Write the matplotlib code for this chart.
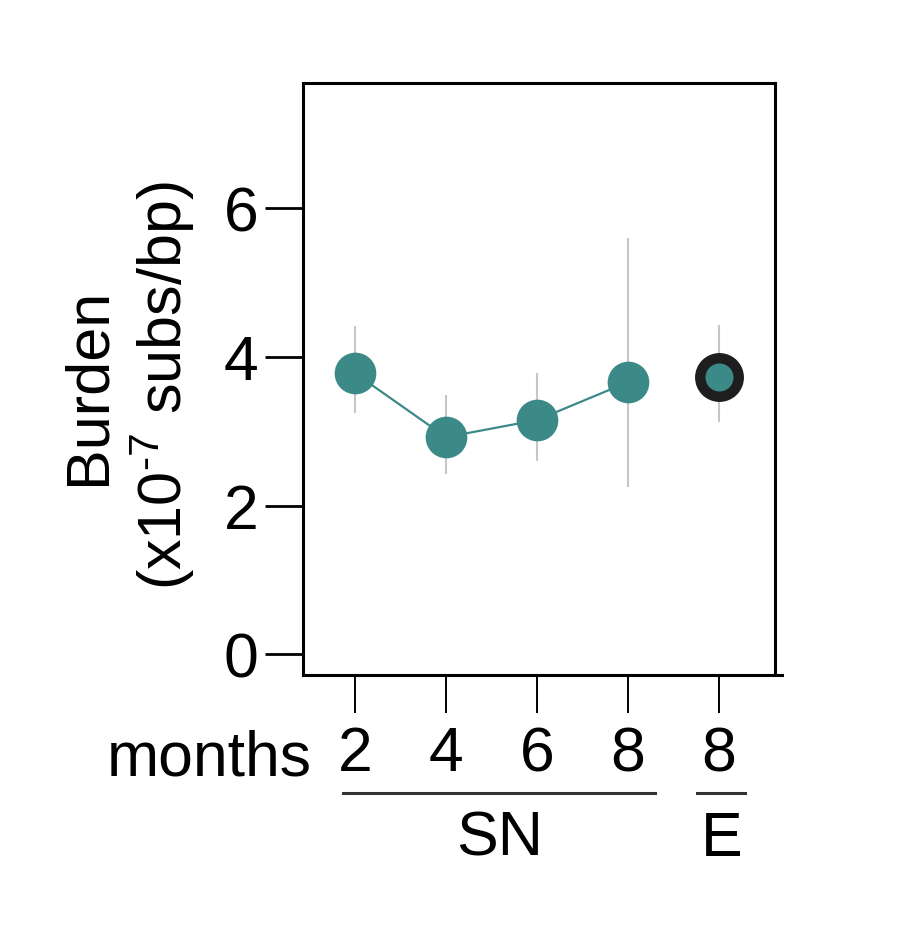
import matplotlib
matplotlib.use("Agg")
import matplotlib.pyplot as plt
from matplotlib.transforms import blended_transform_factory

plt.rcParams['font.family'] = ['Liberation Sans', 'DejaVu Sans']
plt.rcParams['mathtext.fontset'] = 'custom'
plt.rcParams['mathtext.rm'] = 'Liberation Sans'
plt.rcParams['mathtext.it'] = 'Liberation Sans'
plt.rcParams['mathtext.sf'] = 'Liberation Sans'

# ---- data ----
months = ["2", "4", "6", "8"]
sn_mean = [3.78, 2.92, 3.15, 3.66]
sn_low = [3.24, 2.42, 2.60, 2.25]
sn_high = [4.41, 3.49, 3.78, 5.60]
e_label = ["8"]
e_mean = [3.73]
e_low = [3.13]
e_high = [4.43]
yticks = [0, 2, 4, 6]
groups = ["SN", "E"]

teal = "#3c8a87"
gray = "#c6c6c6"

W, H = 900, 934
fig = plt.figure(figsize=(W / 100, H / 100), dpi=100)
ax = fig.add_axes([302.5 / W, 1 - 675 / H, (775 - 302.5) / W, (675 - 83.3) / H])

xs_sn = list(range(len(months)))
xs_e = [len(months) + i for i in range(len(e_label))]

# error bars
for x, lo, hi in zip(xs_sn + xs_e, sn_low + e_low, sn_high + e_high):
    ax.plot([x, x], [lo, hi], color=gray, lw=1.5, zorder=1, solid_capstyle='butt')

# SN line + markers
ax.plot(xs_sn, sn_mean, color=teal, lw=1.6, zorder=2)
ax.plot(xs_sn, sn_mean, 'o', ms=30, color=teal, mec='none', zorder=3)
# E marker
ax.plot(xs_e, e_mean, 'o', ms=27.7, mfc=teal, mec="#1e1e1e", mew=7.5, zorder=3)

ax.set_xlim(-0.577, 4.615)
ax.set_ylim(-0.28, 7.68)
ax.set_yticks(yticks)
ax.set_yticklabels([str(v) for v in yticks])
ax.set_xticks(xs_sn + xs_e)
ax.set_xticklabels(months + e_label)

for s in ax.spines.values():
    s.set_linewidth(2.2)
ax.spines['bottom'].set_bounds(-0.577, 4.69)

ax.tick_params(axis='y', direction='out', length=27.5, width=2.0, pad=4,
               labelsize=45)
ax.tick_params(axis='x', direction='out', length=27, width=1.4, pad=9,
               labelsize=45)

# y label
fig.text(129 / W, 1 - 386 / H, "Burden\n(x10$^{\\text{-}7}$ subs/bp)", rotation=90,
         ha='center', va='center', fontsize=44, linespacing=1.2,
         multialignment='center')

# "months" text
fig.text(312 / W, 1 - 776 / H, "months", ha='right', va='baseline', fontsize=45)

# group lines and labels
tr = blended_transform_factory(ax.transData, fig.transFigure)
sn_line = [-0.13, 3.30]
e_line = [3.76, 4.29]
ax.plot(sn_line, [1 - 793 / H] * 2, color="#333333", lw=2.2,
        transform=tr, clip_on=False)
ax.plot(e_line, [1 - 793 / H] * 2, color="#333333", lw=2.2,
        transform=tr, clip_on=False)
ax.text(sum(sn_line) / 2, 1 - 856 / H, groups[0], transform=tr,
        ha='center', va='baseline', fontsize=45)
ax.text(sum(e_line) / 2, 1 - 856 / H, groups[1], transform=tr,
        ha='center', va='baseline', fontsize=45)

fig.savefig("out.png", dpi=100)
